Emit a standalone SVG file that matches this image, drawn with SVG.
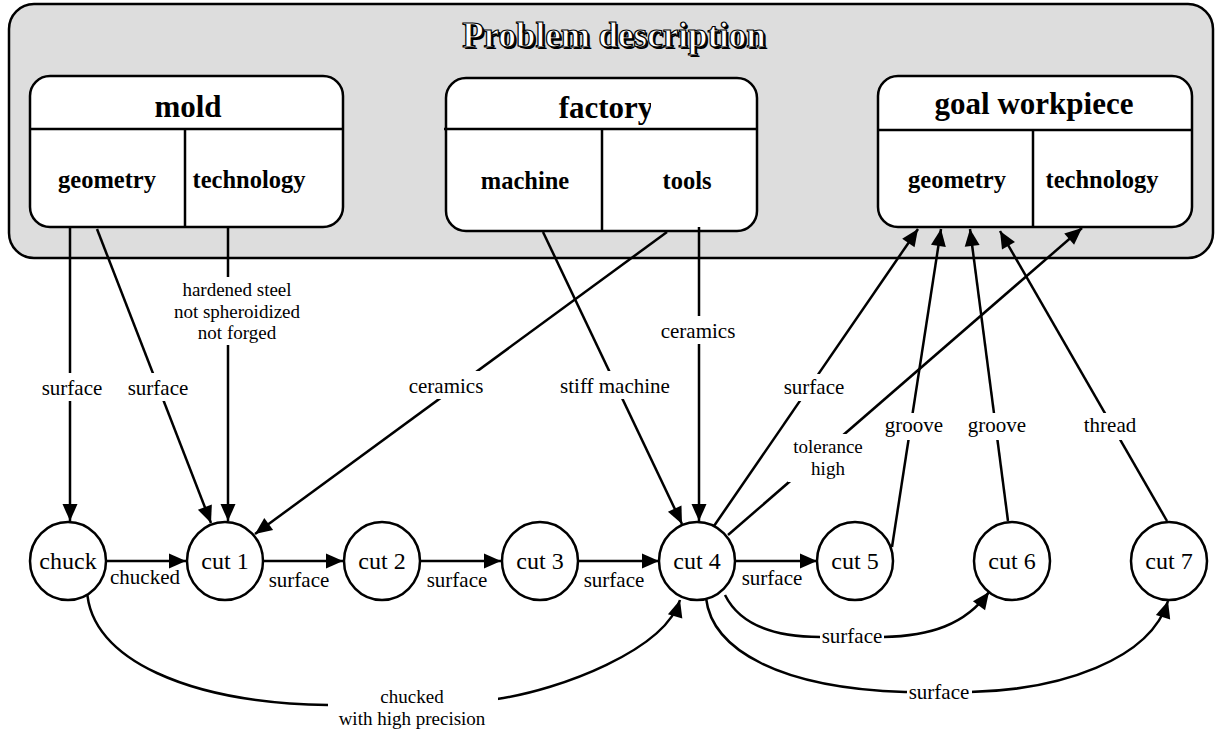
<svg xmlns="http://www.w3.org/2000/svg" width="1215" height="733" viewBox="0 0 1215 733">
<style>
.box{fill:#fff;stroke:#000;stroke-width:2.5}
.ln{fill:none;stroke:#000;stroke-width:2.5}
.hdr{font-family:"Liberation Serif",serif;font-weight:bold;font-size:31px;text-anchor:middle}
.sub{font-family:"Liberation Serif",serif;font-weight:bold;font-size:24.5px;text-anchor:middle}
.nd{fill:#fff;stroke:#000;stroke-width:2.5}
.nt{font-family:"Liberation Serif",serif;font-size:24px;text-anchor:middle}
.e{fill:none;stroke:#000;stroke-width:2.5;marker-end:url(#ah)}
.lb{font-family:"Liberation Serif",serif;font-size:21px;text-anchor:middle}
.ml{font-family:"Liberation Serif",serif;font-size:19px;text-anchor:middle}
.bg{fill:#fff}
</style>
<defs>
<marker id="ah" markerUnits="userSpaceOnUse" markerWidth="20" markerHeight="16" refX="17" refY="7.5" orient="auto" overflow="visible">
<path d="M0,0 L17,7.5 L0,15 Z" fill="#000"/>
</marker>
<clipPath id="fclip"><rect x="446" y="78" width="205" height="51"/></clipPath>
</defs>
<rect width="1215" height="733" fill="#fff"/>
<g id="problem">
<rect x="9" y="4" width="1204" height="254" rx="25" fill="#ddd" stroke="#000" stroke-width="2.5"/>
<text x="616" y="49" font-family="Liberation Serif,serif" font-weight="bold" font-size="35" text-anchor="middle" fill="#000">Problem description</text>
<text x="614" y="47" font-family="Liberation Serif,serif" font-weight="bold" font-size="35" text-anchor="middle" fill="#fff" stroke="#000" stroke-width="1.2">Problem description</text>
</g>
<g id="mold">
<rect class="box" x="30" y="76" width="313" height="151" rx="20"/>
<line class="ln" x1="30" y1="129" x2="343" y2="129"/>
<line class="ln" x1="185" y1="129" x2="185" y2="227"/>
<text class="hdr" x="188" y="117">mold</text>
<text class="sub" x="107" y="188">geometry</text>
<text class="sub" x="249" y="188">technology</text>
</g>
<g id="factory">
<rect class="box" x="446" y="78" width="311" height="153" rx="20"/>
<line class="ln" x1="444" y1="129" x2="757" y2="129"/>
<line class="ln" x1="602" y1="129" x2="602" y2="231"/>
<text class="hdr" x="606" y="118" clip-path="url(#fclip)">factory</text>
<text class="sub" x="525" y="189">machine</text>
<text class="sub" x="687" y="189">tools</text>
</g>
<g id="goal">
<rect class="box" x="878" y="76" width="314" height="151" rx="20"/>
<line class="ln" x1="878" y1="130" x2="1192" y2="130"/>
<line class="ln" x1="1033" y1="130" x2="1033" y2="227"/>
<text class="hdr" x="1034" y="114">goal workpiece</text>
<text class="sub" x="957" y="188">geometry</text>
<text class="sub" x="1102" y="188">technology</text>
</g>
<g id="connectors">
<path class="e" d="M70,227 L70,521"/>
<path class="e" d="M97,229 L211,523"/>
<path class="e" d="M228,227 L228,521"/>
<path class="e" d="M667,232 L255,534"/>
<path class="e" d="M543,232 L682,524"/>
<path class="e" d="M699,227 L699,521"/>
<path class="e" d="M714,526 L918,229"/>
<path class="e" d="M728,535 L1082,228"/>
<path class="e" d="M892,547 L941,229"/>
<path class="e" d="M1008,521 L970,229"/>
<path class="e" d="M1167,521 L1000,231"/>
<path class="e" d="M106,561 L186,561"/>
<path class="e" d="M263,561 L343,561"/>
<path class="e" d="M420,561 L501,561"/>
<path class="e" d="M578,561 L659,561"/>
<path class="e" d="M735,561 L817,561"/>
<path class="e" d="M87,590 C90,660 190,703 328,705 L497,699 C560,690 665,650 680,600"/>
<path class="e" d="M725,595 C740,625 775,637 820,637 L883,637 C930,636 965,625 989,592"/>
<path class="e" d="M706,598 C712,650 780,688 905,692 L970,692 C1060,690 1150,660 1168,601"/>
</g>
<g id="labels">
<rect class="bg" x="40" y="373" width="64" height="28"/>
<text class="lb" x="72" y="395">surface</text>
<rect class="bg" x="126" y="373" width="64" height="28"/>
<text class="lb" x="158" y="395">surface</text>
<rect class="bg" x="166" y="277" width="143" height="68"/>
<text class="ml" x="237" y="296">hardened steel</text>
<text class="ml" x="237" y="317.5">not spheroidized</text>
<text class="ml" x="237" y="339">not forged</text>
<rect class="bg" x="407" y="371" width="78" height="28"/>
<text class="lb" x="446" y="393">ceramics</text>
<rect class="bg" x="558" y="371" width="114" height="28"/>
<text class="lb" x="615" y="393">stiff machine</text>
<rect class="bg" x="659" y="316" width="78" height="28"/>
<text class="lb" x="698" y="338">ceramics</text>
<rect class="bg" x="782" y="374" width="64" height="27"/>
<text class="lb" x="814" y="394">surface</text>
<rect class="bg" x="788" y="434" width="82" height="48"/>
<text class="ml" x="828" y="453">tolerance</text>
<text class="ml" x="828" y="474.5">high</text>
<rect class="bg" x="884" y="413" width="61" height="27"/>
<text class="lb" x="914" y="432">groove</text>
<rect class="bg" x="966" y="413" width="62" height="27"/>
<text class="lb" x="997" y="432">groove</text>
<rect class="bg" x="1082" y="413" width="57" height="27"/>
<text class="lb" x="1110" y="432">thread</text>
<text class="lb" x="145" y="584">chucked</text>
<text class="lb" x="299" y="587">surface</text>
<text class="lb" x="457" y="587">surface</text>
<text class="lb" x="614" y="587">surface</text>
<text class="lb" x="772" y="585">surface</text>
<rect class="bg" x="820" y="626" width="64" height="22"/>
<text class="lb" x="852" y="643">surface</text>
<rect class="bg" x="907" y="682" width="65" height="22"/>
<text class="lb" x="939" y="699">surface</text>
<rect class="bg" x="328" y="684" width="170" height="49"/>
<text class="ml" x="412" y="703">chucked</text>
<text class="ml" x="412" y="724.5">with high precision</text>
</g>
<g id="chuck"><ellipse class="nd" cx="68" cy="561" rx="38" ry="39"/><text class="nt" x="68" y="569">chuck</text></g>
<g id="cut1"><ellipse class="nd" cx="225" cy="561" rx="38" ry="39"/><text class="nt" x="225" y="569">cut 1</text></g>
<g id="cut2"><ellipse class="nd" cx="382" cy="561" rx="38" ry="39"/><text class="nt" x="382" y="569">cut 2</text></g>
<g id="cut3"><ellipse class="nd" cx="540" cy="561" rx="38" ry="39"/><text class="nt" x="540" y="569">cut 3</text></g>
<g id="cut4"><ellipse class="nd" cx="697" cy="561" rx="38" ry="39"/><text class="nt" x="697" y="569">cut 4</text></g>
<g id="cut5"><ellipse class="nd" cx="855" cy="561" rx="38" ry="39"/><text class="nt" x="855" y="569">cut 5</text></g>
<g id="cut6"><ellipse class="nd" cx="1012" cy="561" rx="38" ry="39"/><text class="nt" x="1012" y="569">cut 6</text></g>
<g id="cut7"><ellipse class="nd" cx="1169" cy="561" rx="38" ry="39"/><text class="nt" x="1169" y="569">cut 7</text></g>
</svg>
